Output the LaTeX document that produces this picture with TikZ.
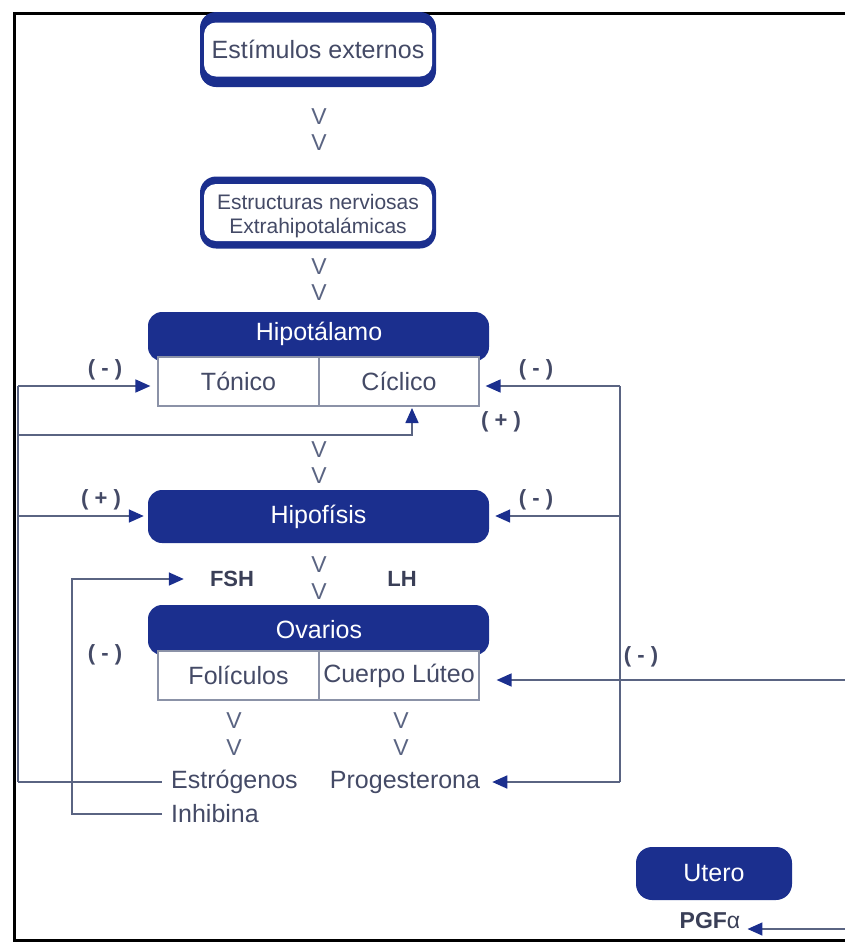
\documentclass[tikz,border=0pt]{standalone}
\usepackage{fontspec}
\setmainfont{Liberation Sans}
\usetikzlibrary{arrows.meta}
\definecolor{navy}{HTML}{1B2F8E}
\definecolor{txt}{HTML}{444A66}
\definecolor{ln}{HTML}{5A6482}
\tikzset{
  lbl/.style={text=txt, font=\fontsize{25}{28}\selectfont, inner sep=0pt},
  smlbl/.style={text=txt, font=\fontsize{21}{26}\selectfont, inner sep=0pt, align=center},
  wlbl/.style={text=white, font=\fontsize{25}{28}\selectfont},
  vv/.style={text=ln, font=\fontsize{23}{24}\selectfont, inner sep=0pt},
  sgn/.style={text=txt, font=\bfseries\fontsize{22}{24}\selectfont, inner sep=0pt},
  hormone/.style={text=txt!85!black, font=\bfseries\fontsize{22}{24}\selectfont, inner sep=0pt},
  conn/.style={draw=ln, line width=1.6pt},
  arr/.style={conn, -{Triangle[length=15pt,width=13pt,color=navy,fill=navy]}},
  bluebox/.style={fill=navy, rounded corners=14pt, inner sep=0pt},
  outerbox/.style={fill=navy, rounded corners=16pt, inner sep=0pt},
  innerbox/.style={fill=white, rounded corners=12pt, inner sep=0pt},
  cellbox/.style={draw=ln!70, line width=1.2pt, fill=white, inner sep=0pt},
}
\begin{document}
\begin{tikzpicture}[x=1pt,y=-1pt]
\useasboundingbox (0,0) rectangle (845,946);
% frame
\draw[line width=3pt] (845,13) -- (14,13) -- (14,940) -- (845,940);

% Estimulos externos
\node[outerbox, minimum width=236pt, minimum height=75pt] (estimout) at (318,49.5) {};
\node[innerbox, minimum width=228pt, minimum height=54pt, lbl] (estim) at (318,49.5) {Estímulos externos};
\node[vv] (v1) at (319,117) {V};
\node[vv] (v2) at (319,143) {V};

% Estructuras nerviosas
\node[outerbox, minimum width=236pt, minimum height=72pt] (estrout) at (318,212.5) {};
\node[innerbox, minimum width=228pt, minimum height=57pt] (estr) at (318,212.5) {};
\node[smlbl] (estr1) at (318,202) {Estructuras nerviosas};
\node[smlbl] (estr2) at (318,228) {Extrahipotalámicas};
\node[vv] (v3) at (319,267) {V};
\node[vv] (v4) at (319,293) {V};

% Hipotalamo
\node[bluebox, minimum width=341pt, minimum height=49pt] (hipot) at (318.5,336.5) {};
\node[wlbl] (hipott) at (319,334) {Hipotálamo};
\node[cellbox, minimum width=161pt, minimum height=49pt, lbl] (tonico) at (238.5,381.5) {Tónico};
\node[cellbox, minimum width=160pt, minimum height=49pt, lbl] (ciclico) at (399,381.5) {Cíclico};
\node[vv] (v5) at (319,450) {V};
\node[vv] (v6) at (319,476) {V};

% Hipofisis
\node[bluebox, minimum width=341pt, minimum height=53pt, wlbl] (hipof) at (318.5,516.5) {Hipofísis};
\node[vv] (v7) at (319,565) {V};
\node[vv] (v8) at (319,592) {V};
\node[hormone] (fsh) at (232,579) {FSH};
\node[hormone] (lh) at (402,579) {LH};

% Ovarios
\node[bluebox, minimum width=341pt, minimum height=50pt] (ovar) at (318.5,630) {};
\node[wlbl] (ovart) at (319,630) {Ovarios};
\node[cellbox, minimum width=161pt, minimum height=49pt, lbl] (folic) at (238.5,675.5) {Folículos};
\node[cellbox, minimum width=160pt, minimum height=49pt, lbl] (cuerpo) at (399,675.5) {Cuerpo Lúteo};
\node[vv] (v9) at (234,721) {V};
\node[vv] (v10) at (234,748) {V};
\node[vv] (v11) at (401,721) {V};
\node[vv] (v12) at (401,748) {V};
\node[lbl, anchor=west] (estrog) at (171,782) {Estrógenos};
\node[lbl, anchor=west] (inhib) at (171,814) {Inhibina};
\node[lbl] (prog) at (405,782) {Progesterona};

% Utero
\node[bluebox, rounded corners=16pt, minimum width=156pt, minimum height=53pt, wlbl] (utero) at (714,873.5) {Utero};
\node[text=txt!85!black, font=\fontsize{23}{24}\selectfont, inner sep=0pt] (pgf) at (710,921) {\textbf{PGF}α};

% signs
\node[sgn] (s1) at (105,370) {( - )};
\node[sgn] (s2) at (536,370) {( - )};
\node[sgn] (s3) at (501,422) {( + )};
\node[sgn] (s4) at (101,500) {( + )};
\node[sgn] (s5) at (536,500) {( - )};
\node[sgn] (s6) at (105,655) {( - )};
\node[sgn] (s7) at (641,657) {( - )};

% coordinates
\coordinate (L1) at (18,386);
\coordinate (L2) at (18,435);
\coordinate (L3) at (18,516);
\coordinate (L4) at (18,782);
\coordinate (R1) at (620,386);
\coordinate (R2) at (620,516);
\coordinate (R3) at (620,782);
\coordinate (cyc) at (412,408);
\coordinate (inhc) at (72,579);
\coordinate (lutin) at (845,680);
\coordinate (pgfin) at (845,929);
\coordinate (tonW) at (L1 -| tonico.west);
\coordinate (cicE) at (R1 -| ciclico.east);
\coordinate (hipW) at (L3 -| hipof.west);
\coordinate (hipE) at (R2 -| hipof.east);
\coordinate (estW) at (L4 -| estrog.west);
\coordinate (inhW) at (inhib.west);
\coordinate (fshW) at (inhc -| fsh.west);
\coordinate (proE) at (R3 -| prog.east);
\coordinate (cueE) at (lutin -| cuerpo.east);
\coordinate (pgfE) at (pgfin -| pgf.east);

% left loop
\draw[conn] (L1) -- (L4);
\draw[arr] (L1) -- ([xshift=-7pt]tonW);
\draw[arr] (L2) -| (cyc);
\draw[arr] (L3) -- ([xshift=-4pt]hipW);
\draw[conn] (L4) -- ([xshift=-9pt]estW);
\draw[arr] ([xshift=-9pt]inhW) -| (inhc) -- ([xshift=-26pt]fshW);

% right loop
\draw[conn] (R1) -- (R3);
\draw[arr] (R1) -- ([xshift=6pt]cicE);
\draw[arr] (R2) -- ([xshift=6pt]hipE);
\draw[arr] (R3) -- ([xshift=12pt]proE);
\draw[arr] (lutin) -- ([xshift=17pt]cueE);
\draw[arr] (pgfin) -- ([xshift=7pt]pgfE);
\end{tikzpicture}
\end{document}
